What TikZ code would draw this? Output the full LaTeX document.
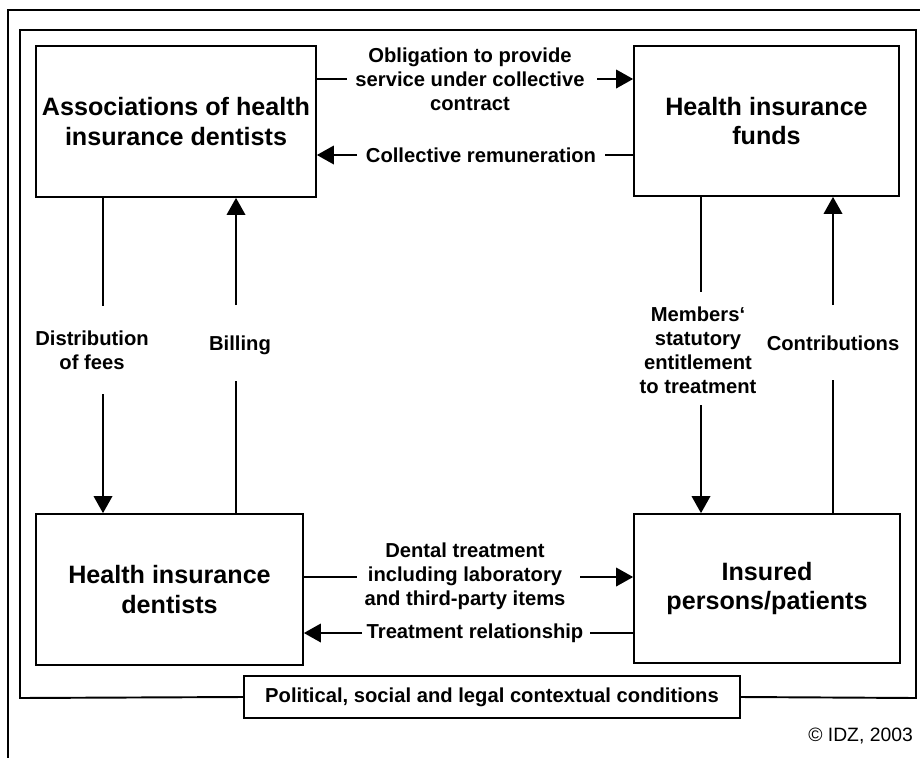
\documentclass[tikz,border=0pt]{standalone}
\usepackage{fontspec}
\setmainfont{Liberation Sans}
\usetikzlibrary{arrows.meta}

\tikzset{
  party/.style={draw, line width=1pt, align=center,
    font=\fontsize{14.3}{16.8}\selectfont\bfseries},
  lbl/.style={align=center, inner sep=1pt,
    font=\fontsize{11.5}{13.7}\selectfont\bfseries},
  link/.style={line width=1.1pt},
  flow/.style={line width=1.1pt, -{Triangle[length=3.4mm,width=3.7mm]}},
}

\begin{document}
\begin{tikzpicture}[x=0.02cm, y=-0.02cm]
  \useasboundingbox[fill=white] (0,0) rectangle (920,758);

  % the four parties
  \node[party, minimum width=5.6cm, minimum height=3.02cm] (assoc) at (176,121.5)
    {Associations of health\\insurance dentists};
  \node[party, minimum width=5.3cm, minimum height=3cm] (funds) at (766.5,121)
    {Health insurance\\funds};
  \node[party, minimum width=5.34cm, minimum height=3.02cm] (dent) at (169.5,589.5)
    {Health insurance\\dentists};
  \node[party, minimum width=5.32cm, minimum height=2.98cm] (insured) at (767,588.5)
    {Insured\\persons/patients};

  % surrounding conditions
  \node[party, font=\fontsize{11.5}{13.7}\selectfont\bfseries,
    minimum width=9.92cm, minimum height=0.84cm] (context) at (492,697)
    {Political, social and legal contextual conditions};
  \draw[link] (context.west) -- (20,698) -- (20,30) -- (916,30) -- (916,698) -- (context.east);
  \draw[line width=0.8pt] (920,10) -- (8,10) -- (8,758);
  \node[anchor=east, font=\fontsize{11}{13}\selectfont] (idz) at (919,736) {© IDZ, 2003};

  % labels
  \node[lbl] (oblig) at (470,79) {Obligation to provide\\service under collective\\contract};
  \node[lbl] (remun) at (481,155) {Collective remuneration};
  \node[lbl] (distrib) at (92,350) {Distribution\\of fees};
  \node[lbl] (billing) at (240,345) {Billing};
  \node[lbl] (members) at (698,350) {Members‘\\statutory\\entitlement\\to treatment};
  \node[lbl] (contrib) at (833,343) {Contributions};
  \node[lbl] (dental) at (465,576) {Dental treatment\\including laboratory\\and third-party items};
  \node[lbl] (treat) at (475,633) {Treatment relationship};

  % breaks in the connectors
  \coordinate (obl1) at (347,79);   \coordinate (obl2) at (597,79);
  \coordinate (rem1) at (357,155);  \coordinate (rem2) at (605,155);
  \coordinate (dis1) at (103,306);  \coordinate (dis2) at (103,394);
  \coordinate (bil1) at (236,305);  \coordinate (bil2) at (236,381);
  \coordinate (mem1) at (701,292);  \coordinate (mem2) at (701,405);
  \coordinate (con1) at (833,305);  \coordinate (con2) at (833,380);
  \coordinate (den1) at (357,577);  \coordinate (den2) at (580,577);
  \coordinate (tre1) at (362,633);  \coordinate (tre2) at (590,633);

  % connectors
  \draw[link] (assoc.east |- obl1) -- (obl1);
  \draw[flow] (obl2) -- (funds.west |- obl2);
  \draw[link] (funds.west |- rem2) -- (rem2);
  \draw[flow] (rem1) -- (assoc.east |- rem1);

  \draw[link] (assoc.south -| dis1) -- (dis1);
  \draw[flow] (dis2) -- (dent.north -| dis2);
  \draw[link] (dent.north -| bil2) -- (bil2);
  \draw[flow] (bil1) -- (assoc.south -| bil1);

  \draw[link] (funds.south -| mem1) -- (mem1);
  \draw[flow] (mem2) -- (insured.north -| mem2);
  \draw[link] (insured.north -| con2) -- (con2);
  \draw[flow] (con1) -- (funds.south -| con1);

  \draw[link] (dent.east |- den1) -- (den1);
  \draw[flow] (den2) -- (insured.west |- den2);
  \draw[link] (insured.west |- tre2) -- (tre2);
  \draw[flow] (tre1) -- (dent.east |- tre1);
\end{tikzpicture}
\end{document}
